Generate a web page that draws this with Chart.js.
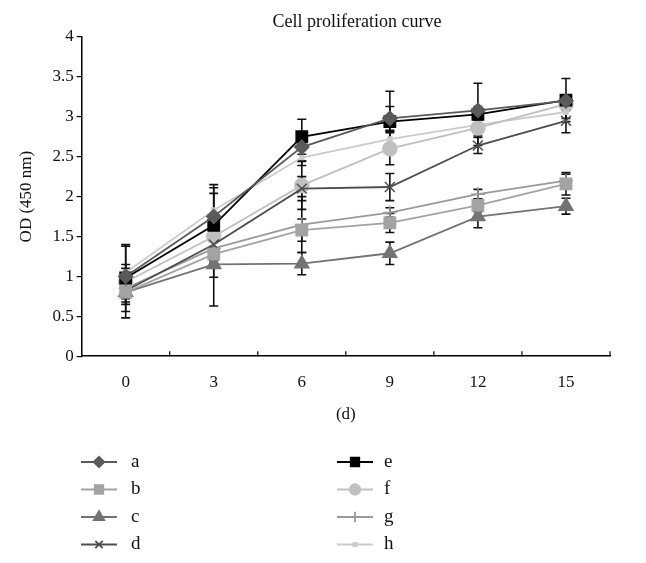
<!DOCTYPE html>
<html>
<head>
<meta charset="utf-8">
<script src="https://cdn.jsdelivr.net/npm/chart.js@4/dist/chart.umd.min.js"></script>
<style>
  html, body { margin: 0; padding: 0; background: #fff; }
  #wrap { width: 646px; height: 563px; }
</style>
</head>
<body>
<div id="wrap"><canvas id="chartOD" width="646" height="563"></canvas></div>
<script>
// days
const days = ['0', '3', '6', '9', '12', '15'];

// mean OD values per group
const seriesA = [1.00, 1.75, 2.62, 2.98, 3.08, 3.20];
const seriesB = [0.80, 1.28, 1.58, 1.67, 1.89, 2.16];
const seriesC = [0.80, 1.15, 1.16, 1.29, 1.75, 1.88];
const seriesD = [0.82, 1.40, 2.10, 2.12, 2.64, 2.95];
const seriesE = [0.98, 1.64, 2.75, 2.94, 3.03, 3.21];
const seriesF = [0.93, 1.50, 2.14, 2.60, 2.86, 3.16];
const seriesG = [0.85, 1.35, 1.65, 1.80, 2.03, 2.20];
const seriesH = [1.05, 1.83, 2.49, 2.72, 2.90, 3.06];

// error bar half-lengths
const errA = [0.10, 0.40, 0.17, 0.15, 0.05, 0.05];
const errB = [0.12, 0.29, 0.14, 0.12, 0.08, 0.14];
const errC = [0.15, 0.52, 0.14, 0.14, 0.14, 0.10];
const errD = [0.10, 0.20, 0.15, 0.17, 0.10, 0.15];
const errE = [0.42, 0.47, 0.22, 0.38, 0.39, 0.27];
const errF = [0.45, 0.20, 0.30, 0.20, 0.10, 0.08];
const errG = [0.10, 0.15, 0.35, 0.06, 0.06, 0.08];
const errH = [0.10, 0.21, 0.10, 0.10, 0.08, 0.08];

const yTicks = [0, 0.5, 1, 1.5, 2, 2.5, 3, 3.5, 4];

const SERIF = '"Liberation Serif", "DejaVu Serif", serif';

function ds(label, data, err, color, style, radius) {
  return {
    label: label, data: data, err: err,
    borderColor: color, backgroundColor: color,
    pointBackgroundColor: color, pointBorderColor: color,
    pointStyle: style, pointRadius: radius, pointHoverRadius: radius,
    pointBorderWidth: 1.5, borderWidth: 1.8, tension: 0
  };
}

const datasets = [
  ds('a', seriesA, errA, '#5a5a5a', 'rectRot', 7),
  ds('b', seriesB, errB, '#a3a3a3', 'rect', 8),
  ds('c', seriesC, errC, '#737373', 'triangle', 8),
  ds('d', seriesD, errD, '#4d4d4d', 'crossRot', 7),
  ds('e', seriesE, errE, '#000000', 'rect', 8),
  ds('f', seriesF, errF, '#c0c0c0', 'circle', 7),
  ds('g', seriesG, errG, '#9a9a9a', 'cross', 7),
  ds('h', seriesH, errH, '#cbcbcb', 'rect', 3)
];

// error bars drawn under the lines and markers
const errorBars = {
  id: 'errorBars',
  beforeDatasetsDraw(chart) {
    const ctx = chart.ctx, x = chart.scales.x, y = chart.scales.y;
    ctx.save();
    ctx.strokeStyle = '#111';
    ctx.lineWidth = 1.6;
    chart.data.datasets.forEach(d => {
      d.data.forEach((v, i) => {
        const px = x.getPixelForValue(i);
        const top = y.getPixelForValue(v + d.err[i]);
        const bot = y.getPixelForValue(v - d.err[i]);
        ctx.beginPath();
        ctx.moveTo(px, top); ctx.lineTo(px, bot);
        ctx.moveTo(px - 4.5, top); ctx.lineTo(px + 4.5, top);
        ctx.moveTo(px - 4.5, bot); ctx.lineTo(px + 4.5, bot);
        ctx.stroke();
      });
    });
    ctx.restore();
  }
};

// category boundary ticks pointing up from the x axis, plus the title
const decorations = {
  id: 'decorations',
  afterDraw(chart) {
    const ctx = chart.ctx, x = chart.scales.x, area = chart.chartArea;
    ctx.save();
    ctx.strokeStyle = '#000';
    ctx.lineWidth = 1.2;
    const step = x.getPixelForValue(1) - x.getPixelForValue(0);
    for (let i = 0; i < days.length; i++) {
      const bx = x.getPixelForValue(i) + step / 2;
      ctx.beginPath();
      ctx.moveTo(bx, area.bottom);
      ctx.lineTo(bx, area.bottom - 5);
      ctx.stroke();
    }
    ctx.fillStyle = '#111';
    ctx.font = '18px ' + SERIF;
    ctx.textAlign = 'center';
    ctx.textBaseline = 'middle';
    ctx.fillText('Cell proliferation curve', 357, 22);
    ctx.restore();
  }
};

// two-column legend under the chart
const sideLegend = {
  id: 'sideLegend',
  afterDraw(chart) {
    const ctx = chart.ctx;
    const cols = [{ x0: 81, tx: 131 }, { x0: 337, tx: 384 }];
    ctx.save();
    ctx.font = '19px ' + SERIF;
    ctx.textBaseline = 'middle';
    chart.data.datasets.forEach((d, k) => {
      const c = cols[Math.floor(k / 4)];
      const yy = 462 + (k % 4) * 27.5;
      ctx.strokeStyle = d.borderColor;
      ctx.lineWidth = 1.8;
      ctx.beginPath();
      ctx.moveTo(c.x0, yy); ctx.lineTo(c.x0 + 36, yy);
      ctx.stroke();
      ctx.fillStyle = d.backgroundColor;
      Chart.helpers.drawPoint(ctx, {
        pointStyle: d.pointStyle, rotation: 0, borderWidth: 1.5,
        radius: d.pointRadius * 0.75
      }, c.x0 + 18, yy);
      ctx.fillStyle = '#111';
      ctx.fillText(d.label, c.tx, yy);
    });
    ctx.restore();
  }
};

new Chart(document.getElementById('chartOD').getContext('2d'), {
  type: 'line',
  data: { labels: days, datasets: datasets },
  options: {
    responsive: false,
    animation: false,
    layout: { padding: { left: 12, right: 36, top: 37, bottom: 134 } },
    plugins: {
      legend: { display: false },
      tooltip: { enabled: false },
      title: { display: false }
    },
    scales: {
      x: {
        offset: true,
        grid: { display: false },
        border: { color: '#000', width: 1.5 },
        ticks: { color: '#111', font: { family: SERIF, size: 17 }, padding: 8 },
        title: { display: true, text: '(d)', color: '#111', font: { family: SERIF, size: 17 }, padding: { top: 4 } }
      },
      y: {
        min: 0, max: 4,
        afterBuildTicks: s => { s.ticks = yTicks.map(v => ({ value: v })); },
        grid: { drawOnChartArea: false, tickLength: 5, color: '#000', lineWidth: 1.2 },
        border: { color: '#000', width: 1.5 },
        ticks: { color: '#111', font: { family: SERIF, size: 17 }, padding: 3, callback: v => String(v) },
        title: { display: true, text: 'OD (450 nm)', color: '#111', font: { family: SERIF, size: 17 }, padding: { bottom: 13 } }
      }
    }
  },
  plugins: [errorBars, decorations, sideLegend]
});
</script>
</body>
</html>
